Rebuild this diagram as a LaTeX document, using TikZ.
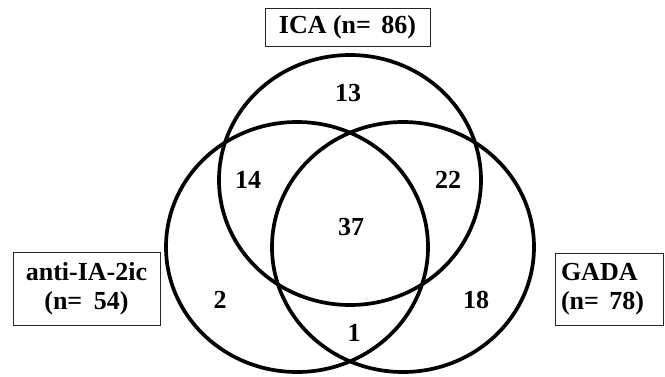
\documentclass[tikz,border=0pt]{standalone}
\usepackage{fontspec}
\setmainfont{Liberation Serif}
\begin{document}
\begin{tikzpicture}[x=1pt,y=-1pt,
  ring/.style={draw=black,line width=3.7pt},
  num/.style={inner sep=0pt,font=\fontsize{26}{29}\selectfont\bfseries},
  tag/.style={draw=black!85,line width=1pt,inner sep=0pt,font=\fontsize{26}{29}\selectfont\bfseries}]
\useasboundingbox (0,0) rectangle (665,376);
% circles
\draw[ring] (350,180) ellipse [x radius=131pt, y radius=125pt];
\draw[ring] (297,247) ellipse [x radius=131pt, y radius=125pt];
\draw[ring] (403,247) ellipse [x radius=131pt, y radius=125pt];
% labels
\node[tag,minimum width=165pt,minimum height=38pt] (ica) at (347.5,27) {ICA (n=\hspace{0.4em}86)};
\node[tag,minimum width=147pt,minimum height=73pt,align=center] (ia) at (86.5,288.5) {anti-IA-2ic\\(n=\hspace{0.45em}54)};
\node[tag,minimum width=108pt,minimum height=72pt,align=left,text width=96pt] (gada) at (609,289) {GADA\\(n=\hspace{0.4em}78)};
% counts
\node[num] (n13) at (348,93) {13};
\node[num] (n14) at (248,180) {14};
\node[num] (n22) at (448,180) {22};
\node[num] (n37) at (351,227) {37};
\node[num] (n2) at (220,300) {2};
\node[num] (n18) at (476,300) {18};
\node[num] (n1) at (354,333) {1};
\end{tikzpicture}
\end{document}
